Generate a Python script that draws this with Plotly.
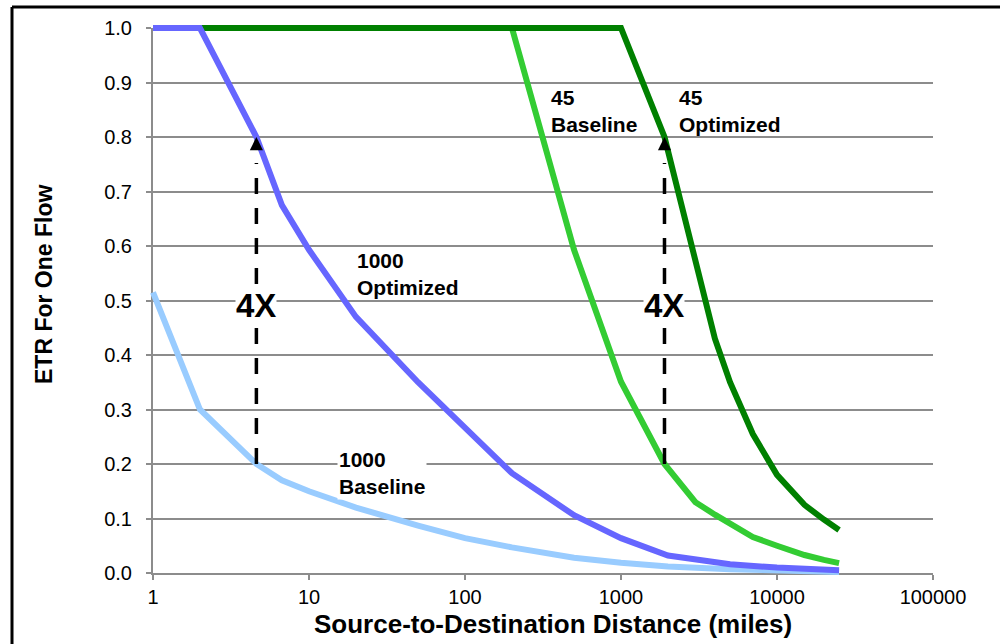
import numpy as np
import plotly.graph_objects as go

# ---------------- data ----------------
dist_1000 = [1, 2, 4.6, 6.7, 10, 20, 50, 100, 200, 500, 1000, 2000, 5000, 10000, 25000]
etr_1000_baseline = [0.515, 0.30, 0.20, 0.17, 0.15, 0.12, 0.087, 0.064, 0.047, 0.028,
                     0.019, 0.012, 0.007, 0.004, 0.002]
etr_1000_optimized = [1.0, 1.0, 0.80, 0.675, 0.593, 0.47, 0.35, 0.265, 0.183, 0.106,
                      0.064, 0.032, 0.016, 0.010, 0.005]

dist_45 = [1, 2, 5, 10, 20, 50, 100, 200, 500, 1000, 1900, 3000, 4000, 5000, 7000,
           10000, 15000, 20000, 25000]
etr_45_baseline = [1.0, 1.0, 1.0, 1.0, 1.0, 1.0, 1.0, 1.0, 0.593, 0.351, 0.20, 0.13,
                   0.107, 0.09, 0.066, 0.05, 0.033, 0.024, 0.018]
etr_45_optimized = [1.0, 1.0, 1.0, 1.0, 1.0, 1.0, 1.0, 1.0, 1.0, 1.0, 0.80, 0.57,
                    0.43, 0.35, 0.255, 0.18, 0.125, 0.098, 0.079]

# 4X comparison arrows: (distance, from ETR, to ETR)
arrow_x = [4.6, 1900]
arrow_from = [0.2, 0.2]
arrow_to = [0.8, 0.8]

x_tick_vals = [1, 10, 100, 1000, 10000, 100000]
x_tick_text = ["1", "10", "100", "1000", "10000", "100000"]

# ---------------- layout geometry ----------------
W, H = 1000, 644
PL, PR, PT, PB = 153, 933, 28, 573
XLOG0, XLOG1 = 0, 5
PAD = 20
dec_px = (PR - PL) / (XLOG1 - XLOG0)
ypx = (PB - PT) / 1.0

FONT = "Liberation Sans, Arial, sans-serif"
GRID = "#8c8c8c"

fig = go.Figure()

series = [
    ("45 Baseline", dist_45, etr_45_baseline, "#33CC33"),
    ("45 Optimized", dist_45, etr_45_optimized, "#008000"),
    ("1000 Baseline", dist_1000, etr_1000_baseline, "#99CCFF"),
    ("1000 Optimized", dist_1000, etr_1000_optimized, "#6666FF"),
]
for name, xs, ys, col in series:
    fig.add_trace(go.Scatter(x=xs, y=ys, mode="lines", name=name,
                             line=dict(color=col, width=6),
                             xaxis="x2", yaxis="y2", showlegend=False,
                             hoverinfo="skip"))

# dashed 4X arrows
for ax_, y0, y1 in zip(arrow_x, arrow_from, arrow_to):
    y_top = y1 - 26 / ypx
    fig.add_trace(go.Scatter(x=[ax_, ax_], y=[y0, y_top], mode="lines",
                             line=dict(color="black", width=3.5, dash="16px,14px"),
                             xaxis="x2", yaxis="y2", showlegend=False,
                             hoverinfo="skip"))

annotations = []
for ax_, y1 in zip(arrow_x, arrow_to):
    annotations.append(dict(x=np.log10(ax_), y=y1, xref="x", yref="y", text="",
                            showarrow=True, ax=0, ay=13, arrowhead=2,
                            arrowwidth=3.5, arrowsize=0.75, arrowcolor="black",
                            standoff=0))

label_font = dict(family=FONT, size=21, color="black")
for txt, xv, yv, bg in [
    ("<b>1000</b><br><b>Optimized</b>", 19.7, 0.549, None),
    ("<b>1000</b><br><b>Baseline</b>", 15.1, 0.183, "white"),
    ("<b>45</b><br><b>Baseline</b>", 345, 0.847, None),
    ("<b>45</b><br><b>Optimized</b>", 2286, 0.847, None),
]:
    a = dict(x=np.log10(xv), y=yv, xref="x", yref="y", text=txt, showarrow=False,
             xanchor="left", yanchor="middle", align="left", font=label_font,
             borderpad=1)
    if bg:
        a["bgcolor"] = bg
    annotations.append(a)

for xv in arrow_x:
    annotations.append(dict(x=np.log10(xv), y=0.49, xref="x", yref="y",
                            text="<b>4X</b>", showarrow=False, xanchor="center",
                            yanchor="middle", bgcolor="white", borderpad=0,
                            font=dict(family=FONT, size=33, color="black")))

# axis titles
annotations.append(dict(x=553 / W, y=(H - 624) / H, xref="paper", yref="paper",
                        text="<b>Source-to-Destination Distance (miles)</b>",
                        showarrow=False, xanchor="center", yanchor="middle",
                        font=dict(family=FONT, size=26, color="black")))
annotations.append(dict(x=44 / W, y=(H - 285) / H, xref="paper", yref="paper",
                        text="<b>ETR For One Flow</b>", textangle=-90,
                        showarrow=False, xanchor="center", yanchor="middle",
                        font=dict(family=FONT, size=23, color="black")))

fig.update_layout(
    width=W, height=H,
    margin=dict(l=0, r=0, t=0, b=0, pad=0),
    paper_bgcolor="white", plot_bgcolor="rgba(0,0,0,0)",
    showlegend=False,
    xaxis=dict(type="log", range=[XLOG0, XLOG1],
               domain=[PL / W, PR / W], anchor="y",
               tickvals=x_tick_vals, ticktext=x_tick_text,
               showgrid=False, zeroline=False,
               showline=True, linecolor=GRID, linewidth=2,
               ticks="outside", ticklen=5, tickwidth=1.5, tickcolor=GRID,
               tickfont=dict(family=FONT, size=20, color="black"),
               ticklabelstandoff=0, automargin=False, fixedrange=True),
    yaxis=dict(range=[0, 1], domain=[(H - PB) / H, (H - PT) / H], anchor="x",
               dtick=0.1, tick0=0, tickformat=".1f",
               showgrid=True, gridcolor=GRID, gridwidth=2, zeroline=False,
               showline=True, linecolor=GRID, linewidth=2,
               ticks="outside", ticklen=5, tickwidth=2, tickcolor=GRID,
               tickfont=dict(family=FONT, size=20, color="black"),
               ticklabelstandoff=10, automargin=False, fixedrange=True),
    xaxis2=dict(type="log",
                range=[XLOG0 - PAD / dec_px, XLOG1 + PAD / dec_px],
                domain=[(PL - PAD) / W, (PR + PAD) / W], anchor="y2",
                visible=False, fixedrange=True),
    yaxis2=dict(range=[0 - PAD / ypx, 1 + PAD / ypx],
                domain=[(H - PB - PAD) / H, (H - PT + PAD) / H], anchor="x2",
                visible=False, fixedrange=True),
    annotations=annotations,
    shapes=[
        dict(type="line", xref="paper", yref="paper",
             x0=12 / W, x1=12 / W, y0=0, y1=(H - 7) / H,
             line=dict(color="black", width=3), layer="above"),
        dict(type="line", xref="paper", yref="paper",
             x0=12 / W, x1=1.0, y0=(H - 7) / H, y1=(H - 7) / H,
             line=dict(color="black", width=3), layer="above"),
    ],
)

fig.write_html("out.html")
